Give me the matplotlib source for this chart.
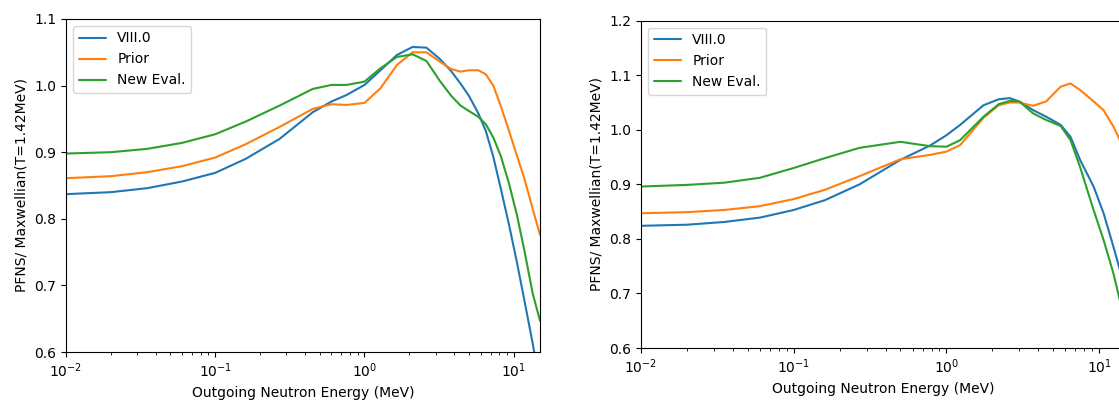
import matplotlib
matplotlib.use("Agg")
import matplotlib.pyplot as plt

series_labels = ["VIII.0", "Prior", "New Eval."]
series_colors = ["#1f77b4", "#ff7f0e", "#2ca02c"]

# Left panel (MeV)
left_energy = [0.01, 0.02, 0.035, 0.06, 0.1, 0.16, 0.27, 0.45, 0.6, 0.76, 1.0, 1.28, 1.65,
               2.1, 2.6, 3.2, 3.8, 4.4, 5.0, 5.8, 6.5, 7.3, 8.2, 9.3, 10.5, 11.8, 13.4, 15.0]
left_viii = [0.837, 0.840, 0.846, 0.856, 0.869, 0.890, 0.920, 0.960, 0.976, 0.986, 1.001,
             1.023, 1.046, 1.058, 1.057, 1.040, 1.022, 1.003, 0.985, 0.958, 0.932, 0.893,
             0.845, 0.791, 0.735, 0.677, 0.613, 0.550]
left_prior = [0.861, 0.864, 0.870, 0.879, 0.892, 0.912, 0.938, 0.965, 0.972, 0.971, 0.974,
              0.996, 1.031, 1.050, 1.050, 1.036, 1.025, 1.021, 1.023, 1.023, 1.017, 1.000,
              0.969, 0.932, 0.895, 0.860, 0.815, 0.776]
left_new = [0.898, 0.900, 0.905, 0.914, 0.927, 0.946, 0.970, 0.995, 1.001, 1.001, 1.006,
            1.026, 1.043, 1.047, 1.037, 1.007, 0.985, 0.970, 0.962, 0.953, 0.942, 0.922,
            0.894, 0.853, 0.806, 0.752, 0.688, 0.647]

# Right panel (MeV)
right_energy = [0.01, 0.02, 0.035, 0.06, 0.1, 0.16, 0.27, 0.5, 0.78, 1.0, 1.23, 1.75, 2.2,
                2.6, 3.0, 3.7, 4.5, 5.6, 6.5, 7.5, 9.2, 10.7, 12.4, 13.5, 15.0]
right_viii = [0.824, 0.826, 0.831, 0.839, 0.853, 0.871, 0.900, 0.945, 0.971, 0.990, 1.009,
              1.045, 1.056, 1.058, 1.052, 1.036, 1.024, 1.009, 0.987, 0.945, 0.896, 0.847,
              0.786, 0.749, 0.700]
right_prior = [0.847, 0.849, 0.853, 0.860, 0.873, 0.890, 0.915, 0.946, 0.954, 0.960, 0.972,
               1.022, 1.045, 1.050, 1.050, 1.044, 1.052, 1.079, 1.085, 1.073, 1.052, 1.036,
               1.006, 0.985, 0.950]
right_new = [0.896, 0.899, 0.903, 0.912, 0.930, 0.948, 0.967, 0.978, 0.970, 0.969, 0.981,
             1.024, 1.047, 1.053, 1.052, 1.030, 1.018, 1.007, 0.981, 0.932, 0.853, 0.798,
             0.737, 0.694, 0.640]

left_yticks = [0.6, 0.7, 0.8, 0.9, 1.0, 1.1]
right_yticks = [0.6, 0.7, 0.8, 0.9, 1.0, 1.1, 1.2]

xlabel = "Outgoing Neutron Energy (MeV)"
ylabel = "PFNS/ Maxwellian(T=1.42MeV)"

W, H = 1119, 407
fig = plt.figure(figsize=(W / 100, H / 100), dpi=100)

ax1 = fig.add_axes([66 / W, (H - 352) / H, (540 - 66) / W, (352 - 19) / H])
ax2 = fig.add_axes([641 / W, (H - 348) / H, 485 / W, (348 - 20.7) / H])

panels = [
    (ax1, left_energy, [left_viii, left_prior, left_new], left_yticks, (0.6, 1.1)),
    (ax2, right_energy, [right_viii, right_prior, right_new], right_yticks, (0.6, 1.2)),
]

for ax, en, data, yt, ylim in panels:
    for vals, lab, col in zip(data, series_labels, series_colors):
        ax.plot(en, vals, color=col, label=lab, lw=1.5,
                solid_joinstyle="round", solid_capstyle="round")
    ax.set_xscale("log")
    ax.set_xlim(0.01, 15)
    ax.set_ylim(*ylim)
    ax.set_yticks(yt)
    ax.set_xlabel(xlabel, fontsize=10)
    ax.set_ylabel(ylabel, fontsize=10)
    ax.tick_params(labelsize=10)
    ax.legend(loc="upper left", fontsize=10)

fig.savefig("out.png", dpi=100)
